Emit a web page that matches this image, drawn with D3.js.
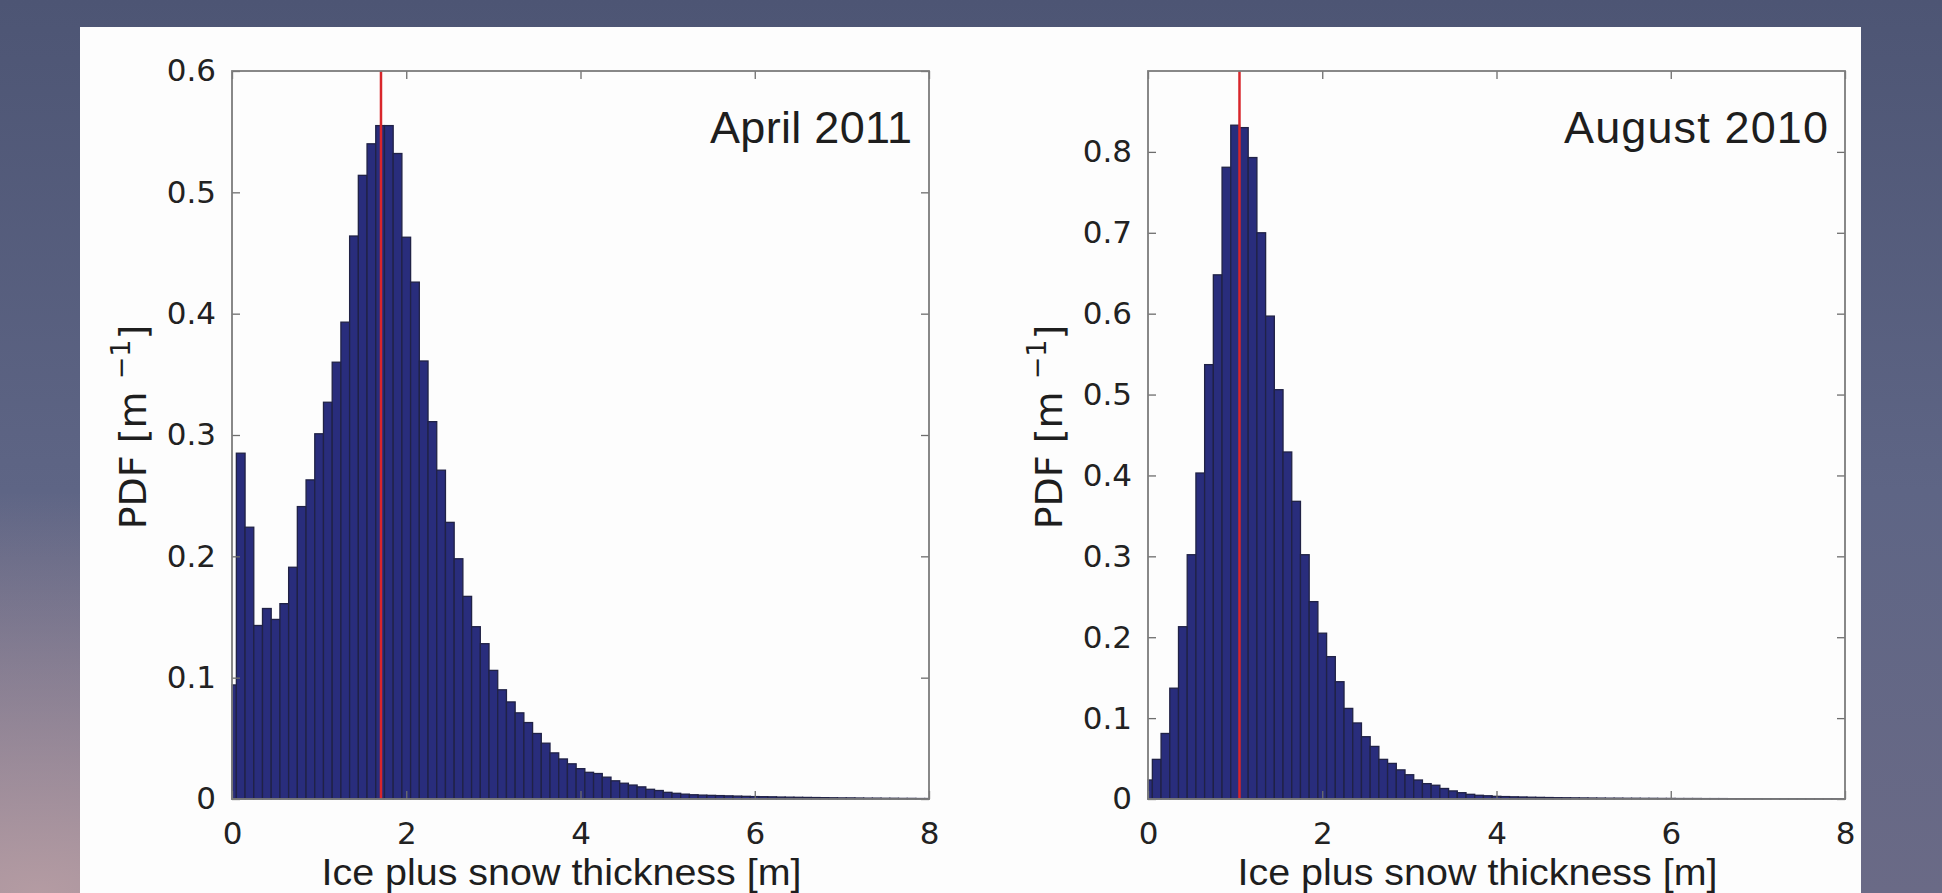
<!DOCTYPE html>
<html>
<head>
<meta charset="utf-8">
<script src="https://cdn.jsdelivr.net/npm/d3@7.9.0/dist/d3.min.js"></script>
<style>
  html, body { margin: 0; padding: 0; overflow: hidden; background: #5a6180; }
  svg { display: block; }
</style>
</head>
<body>
<svg id="chart" width="1942" height="893"></svg>
<script>
// histogram bin centres, 0 to 8 m in 0.1 m steps
const binCenters = d3.range(81).map(i => i / 10);

// PDF values [1/m]
const aprilPdf = [
  0.094, 0.285, 0.224, 0.143, 0.157, 0.148, 0.161, 0.191, 0.241, 0.263,
  0.301, 0.327, 0.360, 0.393, 0.464, 0.514, 0.540, 0.555, 0.555, 0.532,
  0.463, 0.426, 0.361, 0.311, 0.271, 0.228, 0.198, 0.167, 0.142, 0.128,
  0.106, 0.090, 0.080, 0.071, 0.063, 0.054, 0.046, 0.038, 0.033, 0.029,
  0.025, 0.022, 0.021, 0.018, 0.015, 0.013, 0.0115, 0.010, 0.008, 0.007,
  0.0055, 0.0047, 0.004, 0.0035, 0.0032, 0.003, 0.0028, 0.0026, 0.0024, 0.0022,
  0.002, 0.0019, 0.0018, 0.0016, 0.0015, 0.0014, 0.0013, 0.0012, 0.0011, 0.001,
  0.0009, 0.0009, 0.0008, 0.0007, 0.0007, 0.0006, 0.0006, 0.0005, 0.0005, 0.0004,
  0.0004
];

const augustPdf = [
  0.0235, 0.049, 0.081, 0.137, 0.213, 0.302, 0.403, 0.537, 0.648, 0.781,
  0.833, 0.830, 0.793, 0.700, 0.597, 0.506, 0.429, 0.368, 0.302, 0.244,
  0.205, 0.176, 0.145, 0.112, 0.094, 0.077, 0.065, 0.049, 0.044, 0.036,
  0.030, 0.0235, 0.019, 0.017, 0.013, 0.010, 0.0078, 0.0058, 0.0046, 0.004,
  0.0033, 0.003, 0.0027, 0.0025, 0.0022, 0.002, 0.0018, 0.0016, 0.0015, 0.0014,
  0.0013, 0.0012, 0.0011, 0.001, 0.001, 0.0009, 0.0009, 0.0008, 0.0008, 0.0007,
  0.0007, 0.0006, 0.0006, 0.0006, 0.0005, 0.0005, 0.0005, 0.0004, 0.0004, 0.0004,
  0.0004, 0.0003, 0.0003, 0.0003, 0.0003, 0.0003, 0.0002, 0.0002, 0.0002, 0.0002,
  0.0002
];

const xTicks = [0, 2, 4, 6, 8];
const aprilYTicks = [0, 0.1, 0.2, 0.3, 0.4, 0.5, 0.6];
const augustYTicks = [0, 0.1, 0.2, 0.3, 0.4, 0.5, 0.6, 0.7, 0.8];
const panelTitles = ["April 2011", "August 2010"];
const meanThickness = [1.71, 1.05];
const yMax = [0.6, 0.9];

const W = 1942, H = 893;
const svg = d3.select("#chart");

// blurry photo backdrop
const defs = svg.append("defs");
const bg = defs.append("linearGradient").attr("id", "bg")
  .attr("x1", 0).attr("y1", 0).attr("x2", 0).attr("y2", 1);
bg.append("stop").attr("offset", "0%").attr("stop-color", "#4d5574");
bg.append("stop").attr("offset", "55%").attr("stop-color", "#5e6585");
bg.append("stop").attr("offset", "100%").attr("stop-color", "#6a6a86");
const glow = defs.append("radialGradient").attr("id", "glow")
  .attr("cx", 0.02).attr("cy", 1).attr("r", 0.45);
glow.append("stop").attr("offset", "0%").attr("stop-color", "#b89ea4").attr("stop-opacity", 0.95);
glow.append("stop").attr("offset", "100%").attr("stop-color", "#b89ea4").attr("stop-opacity", 0);

svg.append("rect").attr("width", W).attr("height", H).attr("fill", "url(#bg)");
svg.append("rect").attr("width", W).attr("height", H).attr("fill", "url(#glow)");

// white slide panel
svg.append("rect").attr("x", 80).attr("y", 27).attr("width", 1781).attr("height", H - 27)
  .attr("fill", "#fdfdfd");

const plotW = 697, plotH = 728, plotTop = 71;
const plotLeft = [232, 1148];
const titleWidth = [202, 264];
const yTickSets = [aprilYTicks, augustYTicks];
const series = [aprilPdf, augustPdf];

series.forEach((values, p) => {
  const g = svg.append("g").attr("transform", `translate(${plotLeft[p]},${plotTop})`);

  const x = d3.scaleLinear().domain([0, 8]).range([0, plotW]);
  const y = d3.scaleLinear().domain([0, yMax[p]]).range([plotH, 0]);

  const bins = binCenters.map((c, i) => ({ x0: Math.max(0, c - 0.05), x1: Math.min(8, c + 0.05), v: values[i] }));

  g.selectAll("rect.bar")
    .data(bins)
    .join("rect")
    .attr("class", "bar")
    .attr("x", d => x(d.x0))
    .attr("width", d => x(d.x1) - x(d.x0))
    .attr("y", d => y(d.v))
    .attr("height", d => y(0) - y(d.v))
    .attr("fill", "#292d7c")
    .attr("stroke", "#202246")
    .attr("stroke-width", 1.3);

  // mean thickness marker
  g.append("line")
    .attr("x1", x(meanThickness[p])).attr("x2", x(meanThickness[p]))
    .attr("y1", y(0)).attr("y2", 0)
    .attr("stroke", "#d8262b").attr("stroke-width", 2.5);

  const fmt = d3.format("~g");

  const bottom = g.append("g").attr("transform", `translate(0,${plotH})`)
    .call(d3.axisBottom(x).tickValues(xTicks).tickSizeInner(-8).tickSizeOuter(0)
      .tickPadding(23).tickFormat(d3.format("d")));
  const left = g.append("g")
    .call(d3.axisLeft(y).tickValues(yTickSets[p]).tickSizeInner(-8).tickSizeOuter(0)
      .tickPadding(16).tickFormat(fmt));
  const top = g.append("g")
    .call(d3.axisTop(x).tickValues(xTicks).tickSizeInner(-8).tickSizeOuter(0).tickFormat(""));
  const right = g.append("g").attr("transform", `translate(${plotW},0)`)
    .call(d3.axisRight(y).tickValues(yTickSets[p]).tickSizeInner(-8).tickSizeOuter(0).tickFormat(""));

  [bottom, left, top, right].forEach(a => {
    a.select(".domain").remove();
    a.selectAll(".tick line").attr("stroke", "#6d6d6d").attr("stroke-width", 1.3);
    a.selectAll(".tick text")
      .attr("fill", "#222")
      .style("font-family", "'DejaVu Sans', Verdana, sans-serif")
      .style("font-size", "31px");
  });

  // axes box
  g.append("rect").attr("width", plotW).attr("height", plotH)
    .attr("fill", "none").attr("stroke", "#7c7c7c").attr("stroke-width", 1.8);

  // panel title
  g.append("text")
    .attr("x", plotW - 17).attr("y", 72)
    .attr("text-anchor", "end")
    .attr("textLength", titleWidth[p])
    .attr("lengthAdjust", "spacing")
    .attr("fill", "#1e1e1e")
    .style("font-family", "'Liberation Sans', Arial, sans-serif")
    .style("font-size", "45px")
    .text(panelTitles[p]);

  // x label
  g.append("text")
    .attr("x", plotW / 2 - 19).attr("y", 885 - plotTop)
    .attr("text-anchor", "middle")
    .attr("textLength", 480)
    .attr("lengthAdjust", "spacingAndGlyphs")
    .attr("fill", "#1e1e1e")
    .style("font-family", "'Liberation Sans', Arial, sans-serif")
    .style("font-size", "36px")
    .text("Ice plus snow thickness [m]");

  // y label with superscript
  const yl = g.append("text")
    .attr("transform", `translate(-86,${427 - plotTop}) rotate(-90)`)
    .attr("text-anchor", "middle")
    .attr("fill", "#1e1e1e")
    .style("font-family", "'DejaVu Sans', Verdana, sans-serif")
    .style("font-size", "38px");
  yl.append("tspan").text("PDF [m ");
  yl.append("tspan").attr("dy", -16).style("font-size", "27px").text("\u22121");
  yl.append("tspan").attr("dy", 16).text("]");
});
</script>
</body>
</html>
